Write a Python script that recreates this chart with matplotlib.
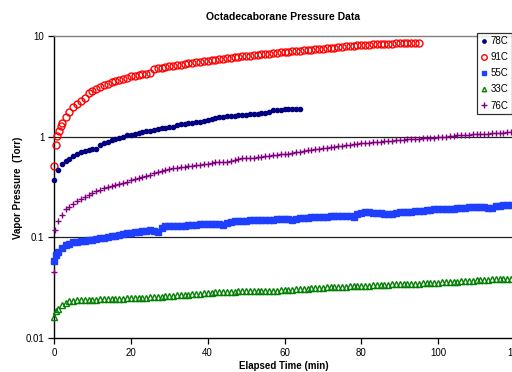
import matplotlib
matplotlib.use("Agg")
import matplotlib.pyplot as plt
from matplotlib.ticker import FixedLocator, FixedFormatter, NullLocator

plt.rcParams['font.family'] = ['Liberation Sans', 'DejaVu Sans']

# ---------------- data ----------------
t_91 = [0, 0.4, 0.8, 1.2, 1.7, 2.2] + list(range(3, 96))
p_91 = [0.51, 0.83, 1.02, 1.15, 1.27, 1.38,
        1.56, 1.75, 1.95, 2.12, 2.28, 2.42, 2.72, 2.85, 3.0, 3.12,
        3.25, 3.36, 3.47, 3.57, 3.66, 3.76, 3.86, 3.96, 4.05, 4.12,
        4.18, 4.24, 4.3, 4.7, 4.77, 4.85, 4.92, 5.0, 5.07, 5.14,
        5.2, 5.27, 5.34, 5.41, 5.48, 5.55, 5.62, 5.7, 5.76, 5.82,
        5.88, 5.94, 6.0, 6.06, 6.12, 6.2, 6.27, 6.33, 6.39, 6.45,
        6.51, 6.57, 6.63, 6.69, 6.75, 6.8, 6.86, 6.92, 6.98, 7.04,
        7.1, 7.15, 7.2, 7.26, 7.32, 7.38, 7.44, 7.5, 7.56, 7.62,
        7.68, 7.74, 7.85, 7.92, 8.0, 8.04, 8.08, 8.12, 8.16, 8.2,
        8.24, 8.28, 8.31, 8.34, 8.37, 8.4, 8.43, 8.47, 8.5, 8.53,
        8.56, 8.58, 8.6]

t_78 = list(range(0, 65))
p_78 = [0.374, 0.47, 0.53, 0.57, 0.60, 0.64, 0.67, 0.70, 0.72, 0.74,
        0.75, 0.76, 0.82, 0.86, 0.89, 0.92, 0.95, 0.97, 1.0, 1.03,
        1.05, 1.07, 1.09, 1.11, 1.13, 1.15, 1.17, 1.19, 1.21, 1.23,
        1.24, 1.25, 1.31, 1.33, 1.35, 1.36, 1.38, 1.39, 1.41, 1.43,
        1.45, 1.50, 1.55, 1.57, 1.58, 1.59, 1.60, 1.62, 1.63, 1.65,
        1.66, 1.67, 1.68, 1.69, 1.70, 1.72, 1.74, 1.84, 1.85, 1.86,
        1.87, 1.88, 1.89, 1.90, 1.90]

t_76 = [0, 0.3] + list(range(1, 121))
p_76 = [0.045, 0.119, 0.144, 0.165, 0.19, 0.20, 0.215, 0.228, 0.24, 0.252,
        0.265, 0.278, 0.288, 0.297, 0.306, 0.314, 0.322, 0.331, 0.34, 0.349,
        0.358, 0.367, 0.377, 0.387, 0.398, 0.409, 0.42, 0.431, 0.443, 0.455,
        0.466, 0.477, 0.484, 0.491, 0.497, 0.503, 0.509, 0.515, 0.52, 0.527,
        0.534, 0.541, 0.548, 0.555, 0.558, 0.562, 0.565, 0.572, 0.58, 0.595,
        0.607, 0.612, 0.617, 0.62, 0.622, 0.625, 0.64, 0.647, 0.655, 0.662,
        0.668, 0.675, 0.68, 0.69, 0.70, 0.71, 0.72, 0.73, 0.74, 0.75,
        0.758, 0.767, 0.776, 0.785, 0.794, 0.803, 0.812, 0.822, 0.831, 0.84,
        0.85, 0.86, 0.867, 0.874, 0.881, 0.888, 0.895, 0.902, 0.909, 0.916,
        0.925, 0.93, 0.935, 0.94, 0.945, 0.95, 0.955, 0.96, 0.965, 0.97,
        0.978, 0.986, 0.994, 1.002, 1.01, 1.02, 1.03, 1.04, 1.045, 1.05,
        1.055, 1.06, 1.065, 1.07, 1.075, 1.08, 1.085, 1.09, 1.095, 1.10,
        1.10, 1.105]

t_55 = [0, 0.5] + list(range(1, 121))
p_55 = [0.0587, 0.066, 0.071, 0.078, 0.083, 0.0865, 0.089, 0.0905, 0.092, 0.093,
        0.094, 0.095, 0.0965, 0.098, 0.0995, 0.101, 0.102, 0.104, 0.106, 0.108,
        0.110, 0.111, 0.112, 0.114, 0.115, 0.116, 0.117, 0.116, 0.113, 0.125,
        0.131, 0.131, 0.131, 0.131, 0.131, 0.131, 0.132, 0.133, 0.134, 0.135,
        0.135, 0.136, 0.136, 0.137, 0.136, 0.133, 0.138, 0.143, 0.144, 0.145,
        0.146, 0.146, 0.147, 0.147, 0.147, 0.147, 0.148, 0.149, 0.150, 0.151,
        0.152, 0.152, 0.151, 0.150, 0.153, 0.155, 0.156, 0.157, 0.158, 0.158,
        0.160, 0.160, 0.161, 0.162, 0.163, 0.164, 0.164, 0.164, 0.163, 0.161,
        0.170, 0.176, 0.177, 0.177, 0.176, 0.175, 0.174, 0.172, 0.171, 0.171,
        0.174, 0.177, 0.178, 0.179, 0.180, 0.181, 0.182, 0.183, 0.185, 0.189,
        0.192, 0.193, 0.193, 0.193, 0.192, 0.191, 0.194, 0.196, 0.197, 0.198,
        0.199, 0.200, 0.201, 0.200, 0.196, 0.197, 0.203, 0.206, 0.208, 0.209,
        0.210, 0.211]

t_33 = [0, 0.5] + list(range(1, 121))
p_33 = [0.016, 0.0185, 0.0195, 0.0212, 0.0225, 0.0231, 0.0234, 0.0236, 0.0238, 0.0239,
        0.024, 0.0241, 0.0241, 0.0242, 0.0242, 0.0243, 0.0243, 0.0244, 0.0245, 0.0246,
        0.0247, 0.0248, 0.0249, 0.025, 0.0251, 0.0252, 0.0254, 0.0255, 0.0257, 0.0258,
        0.026, 0.0262, 0.0263, 0.0265, 0.0267, 0.0268, 0.027, 0.0272, 0.0274, 0.0276,
        0.0278, 0.028, 0.0282, 0.0284, 0.0285, 0.0286, 0.0287, 0.0288, 0.0289, 0.029,
        0.029, 0.0291, 0.0291, 0.0292, 0.0293, 0.0294, 0.0294, 0.0295, 0.0296, 0.0296,
        0.0297, 0.0298, 0.03, 0.0302, 0.0304, 0.0306, 0.0308, 0.031, 0.0312, 0.0314,
        0.0316, 0.0317, 0.0319, 0.032, 0.0321, 0.0322, 0.0323, 0.0324, 0.0325, 0.0326,
        0.0328, 0.0329, 0.033, 0.0331, 0.0333, 0.0335, 0.0337, 0.0338, 0.0339, 0.034,
        0.0341, 0.0342, 0.0343, 0.0344, 0.0345, 0.0346, 0.0347, 0.0348, 0.0349, 0.035,
        0.0352, 0.0354, 0.0356, 0.0358, 0.036, 0.0362, 0.0364, 0.0366, 0.0368, 0.037,
        0.0372, 0.0374, 0.0376, 0.0378, 0.038, 0.0382, 0.0384, 0.0386, 0.0387, 0.0388,
        0.0389, 0.039]

x_ticks = [0, 20, 40, 60, 80, 100, 120]
x_labels = ['0', '20', '40', '60', '80', '100', '120']
y_ticks = [0.01, 0.1, 1, 10]
y_labels = ['0.01', '0.1', '1', '10']

# ---------------- figure ----------------
fig = plt.figure(figsize=(5.12, 3.72), dpi=100)
ax = fig.add_axes([54 / 512, 1 - 338 / 372, 461 / 512, 302 / 372])
ax.set_yscale('log')
ax.set_xlim(0, 120)
ax.set_ylim(0.01, 10)

ax.plot(t_78, p_78, linestyle='none', marker='o', ms=3.0, color='#000080',
        mec='#000080', label='78C', clip_on=False, zorder=5)
ax.plot(t_91, p_91, linestyle='none', marker='o', ms=5.0, mfc='none',
        mec='#FF0000', mew=1.0, label='91C', clip_on=False, zorder=4)
ax.plot(t_55, p_55, linestyle='none', marker='s', ms=3.9, color='#1F3FFF',
        mec='#1F3FFF', label='55C', clip_on=False, zorder=4)
ax.plot(t_33, p_33, linestyle='none', marker='^', ms=4.0, mfc='none',
        mec='#008000', mew=1.0, label='33C', clip_on=False, zorder=4)
ax.plot(t_76, p_76, linestyle='none', marker='+', ms=5.0, color='#800080',
        mew=1.0, label='76C', clip_on=False, zorder=4)

for g in [0.1, 1]:
    ax.axhline(g, color='#222222', lw=0.9, zorder=1)

ax.yaxis.set_major_locator(FixedLocator(y_ticks))
ax.yaxis.set_major_formatter(FixedFormatter(y_labels))
ax.yaxis.set_minor_locator(NullLocator())
ax.xaxis.set_major_locator(FixedLocator(x_ticks))
ax.xaxis.set_major_formatter(FixedFormatter(x_labels))

ax.tick_params(axis='both', direction='out', length=4, width=0.9,
               labelsize=7, colors='black', pad=3)

for s in ['left', 'bottom']:
    ax.spines[s].set_color('black')
    ax.spines[s].set_linewidth(1.0)
ax.spines['top'].set_color('#808080')
ax.spines['top'].set_linewidth(1.0)
ax.spines['right'].set_visible(False)

fig.text(283 / 512, 1 - 17 / 372, 'Octadecaborane Pressure Data',
         ha='center', va='center', fontsize=7.5, fontweight='bold')
fig.text(18 / 512, 1 - 188 / 372, 'Vapor Pressure  (Torr)', rotation=90,
         ha='center', va='center', fontsize=7, fontweight='bold')
fig.text(284 / 512, 1 - 366 / 372, 'Elapsed Time (min)',
         ha='center', va='center', fontsize=7, fontweight='bold')

leg = ax.legend(loc='upper left', bbox_to_anchor=(477 / 512, 1 - 33 / 372),
                bbox_transform=fig.transFigure, fontsize=7, frameon=True,
                fancybox=False, borderaxespad=0, handlelength=0.7,
                handletextpad=0.35, borderpad=0.35, labelspacing=0.62,
                markerscale=0.8)
leg.get_frame().set_edgecolor('black')
leg.get_frame().set_linewidth(0.9)
leg.set_zorder(10)

fig.savefig('out.png', dpi=100)
